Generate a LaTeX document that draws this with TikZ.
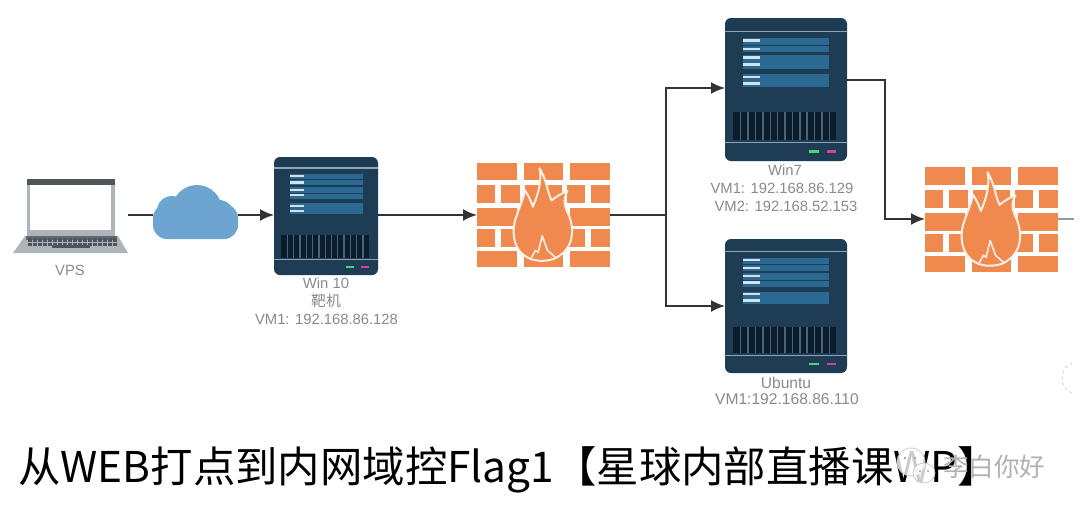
\documentclass[tikz,border=0pt]{standalone}
\usepackage{fontspec}
\setmainfont{Liberation Sans}
\newfontfamily\cjk{Noto Sans CJK SC}
\definecolor{srv}{HTML}{1E3D54}
\definecolor{band}{HTML}{2A6A92}
\definecolor{grille}{HTML}{0B1C2C}
\definecolor{srvline}{HTML}{8FA5B3}
\definecolor{brick}{HTML}{F0894E}
\definecolor{cloudc}{HTML}{6CA6D0}
\definecolor{labelc}{HTML}{8A8A8A}
\definecolor{wire}{HTML}{333333}
\definecolor{lapbody}{HTML}{AEB5BA}
\definecolor{lapdark}{HTML}{4E565C}
\usetikzlibrary{arrows.meta}
\tikzset{
  wirestyle/.style={draw=wire,line width=2pt,-{Latex[length=14pt,width=12pt]}},
  plainwire/.style={draw=wire,line width=2pt},
  lbl/.style={text=labelc,font=\fontsize{14.8}{17}\selectfont,inner sep=0pt,align=center},
}
% server: name, left, top, width, height
\newcommand{\myserver}[5]{%
  \begin{scope}[shift={(#2,#3)},x=#4pt,y=-#5pt]
    \fill[srv,rounded corners=6pt] (0,0) rectangle (1,1);
    \fill[srvline] (0,.088) rectangle (1,.098);
    \fill[srvline] (0,.866) rectangle (1,.876);
    \foreach \a/\b in {.14/.19,.195/.24,.257/.305,.31/.355,.394/.483}{
      \fill[band] (.15,\a) rectangle (.856,\b);}
    \foreach \a in {.158,.216,.278,.325,.412,.459}{
      \fill[white!80!band] (.15,\a-.009) rectangle (.29,\a+.009);}
    \fill[grille] (.0625,.66) rectangle (.91,.853);
    \foreach \i in {1,...,13}{
      \fill[srv!80!white] ({.0625+\i*.0605},.66) rectangle ({.0625+\i*.0605+.012},.853);}
    \fill[green!55!teal!70!white] (.69,.922) rectangle (.77,.942);
    \fill[magenta!70!gray] (.84,.922) rectangle (.91,.942);
  \end{scope}%
  \node[inner sep=0pt,outer sep=0pt,minimum width=#4pt,minimum height=#5pt,anchor=north west] (#1) at (#2,#3) {};%
}
% firewall: name, left, top, width, height
\newcommand{\myfirewall}[5]{%
  \begin{scope}[shift={(#2,#3)},x=#4pt,y=-#5pt]
    \foreach \a/\b in {0/.3,.35/.65,.7/1}{
      \fill[brick] (\a,0) rectangle (\b,.168);
      \fill[brick] (\a,.845) rectangle (\b,1);
      }
    \foreach \a/\b in {0/.3,.7/1}{
      \fill[brick] (\a,.435) rectangle (\b,.606);}
    \foreach \v/\w in {.215/.387,.635/.806}{
      \foreach \a/\b in {0/.1375,.18/.32,.36/.64,.68/.815,.855/1}{
        \fill[brick] (\a,\v) rectangle (\b,\w);}}
    \path[fill=brick,draw=white!85!brick,line width=2pt,line join=round]
      (.47,.05) .. controls (.52,.15) and (.53,.28) .. (.56,.36)
      .. controls (.6,.32) and (.64,.29) .. (.68,.27)
      .. controls (.64,.36) and (.66,.42) .. (.69,.5)
      .. controls (.74,.66) and (.72,.84) .. (.58,.92)
      .. controls (.52,.95) and (.42,.95) .. (.37,.9)
      .. controls (.26,.82) and (.26,.62) .. (.3,.5)
      .. controls (.32,.42) and (.35,.35) .. (.36,.26)
      .. controls (.39,.32) and (.41,.38) .. (.42,.42)
      .. controls (.46,.3) and (.49,.17) .. (.47,.05) -- cycle;
    \path[draw=white!85!brick,line width=1.6pt,line join=round]
      (.4,.93) -- (.44,.84) -- (.46,.86) -- (.49,.7) -- (.53,.84) -- (.6,.92);
  \end{scope}%
  \node[inner sep=0pt,outer sep=0pt,minimum width=#4pt,minimum height=#5pt,anchor=north west] (#1) at (#2,#3) {};%
}
\begin{document}
\begin{tikzpicture}[x=1pt,y=-1pt]
\useasboundingbox[fill=white] (0,0) rectangle (1080,515);

% laptop
\fill[lapbody] (27,179) rectangle (115,236);
\fill[lapdark] (27,179) rectangle (115,185);
\fill[white] (30,185) rectangle (111,230);
\fill[lapbody] (25,236) -- (118,236) -- (128,253) -- (13,253) -- cycle;
\fill[lapdark!80!lapbody] (26,236) rectangle (117,240);
\foreach \i in {0,...,17}{\fill[lapdark] ({28+\i*5},238) rectangle ({31.5+\i*5},241.5);
  \fill[lapdark] ({28+\i*5},243) rectangle ({31.5+\i*5},245.5);}
\fill[lapdark] (52,245) rectangle (90,248);
\node[inner sep=0pt,outer sep=0pt,minimum width=115pt,minimum height=74pt,anchor=north west] (laptop) at (13,179) {};
\node[lbl] (vpsl) at (70,270) {VPS};

% cloud
\fill[cloudc,rounded corners=14pt] (153,204) rectangle (238,239);
\fill[cloudc] (172,211) circle (15);
\fill[cloudc] (197,210) circle (25);
\fill[cloudc] (219,215) circle (15);
\fill[cloudc] (168,224) circle (15);
\node[inner sep=0pt,outer sep=0pt,minimum width=85pt,minimum height=54pt,anchor=north west] (cloud) at (153,185) {};

% servers
\myserver{win10}{274}{157}{104}{118}
\myserver{win7}{725}{18}{122}{143}
\myserver{ubuntu}{725}{239}{122}{134}

% firewalls
\myfirewall{fwa}{477}{163}{133}{104}
\myfirewall{fwb}{925}{167}{133}{105}

% junction coordinates
\coordinate (lapout) at (128,215);
\coordinate (srcin) at (274,215);
\coordinate (branch) at (666,215);
\coordinate (win7in) at (725,88);
\coordinate (ubin) at (725,306);
\coordinate (win7out) at (847,80);
\coordinate (fwbin) at (925,219);
\coordinate (fwbout) at (1074,219);

% connectors
\draw[plainwire] (lapout) -- (lapout -| cloud.west);
\draw[wirestyle] (cloud.east |- srcin) -- (srcin);
\draw[wirestyle] (win10.east |- srcin) -- (fwa.west |- srcin);
\draw[plainwire] (fwa.east |- srcin) -- (branch);
\draw[wirestyle] (branch) |- (win7in);
\draw[wirestyle] (branch) |- (ubin);
\draw[wirestyle] (win7out) -- (885,80) -- (885,219) -- (fwbin);
\draw[draw=gray!80,line width=2pt] (fwb.east |- fwbout) -- (fwbout);

% labels
\node[lbl] (w10a) at (326,283) {Win 10};
\node[lbl] (w10b) at (326,301) {\cjk 靶机};
\node[lbl] (w10c) at (326.5,319) {VM1: 192.168.86.128};
\node[lbl] (w7a) at (785,170) {Win7};
\node[lbl] (w7b) at (782,188) {VM1: 192.168.86.129};
\node[lbl] (w7c) at (786,206) {VM2: 192.168.52.153};
\node[lbl,font=\fontsize{15.6}{17}\selectfont] (uba) at (786,383) {Ubuntu};
\node[lbl,font=\fontsize{15.6}{17}\selectfont] (ubb) at (787,399) {VM1:192.168.86.110};

% title
\node[anchor=base west,inner sep=0pt,font=\cjk\fontsize{42.4}{48}\selectfont,text=black] (title) at (18,482) {从WEB打点到内网域控Flag1【星球内部直播课WP】};
% watermark
\begin{scope}[opacity=.8]
\draw[gray!45,line width=.9pt,fill=white] (911,462) ellipse (14 and 14);
\draw[gray!45,line width=.9pt,fill=white] (924,473) ellipse (11 and 10);
\end{scope}
\fill[gray!70] (905,458) circle (1.4);
\fill[gray!70] (915,458) circle (1.4);
\fill[gray!70] (920,471) circle (1.1);
\fill[gray!70] (928,471) circle (1.1);
\node[anchor=base west,inner sep=0pt,font=\cjk\fontsize{25.5}{30}\selectfont,text=white!40!gray] (wm) at (943,476) {李白你好};
% stray mark
\draw[gray!35,dashed,line width=.8pt] (1072,393) arc (100:260:12 and 15);
\end{tikzpicture}
\end{document}
